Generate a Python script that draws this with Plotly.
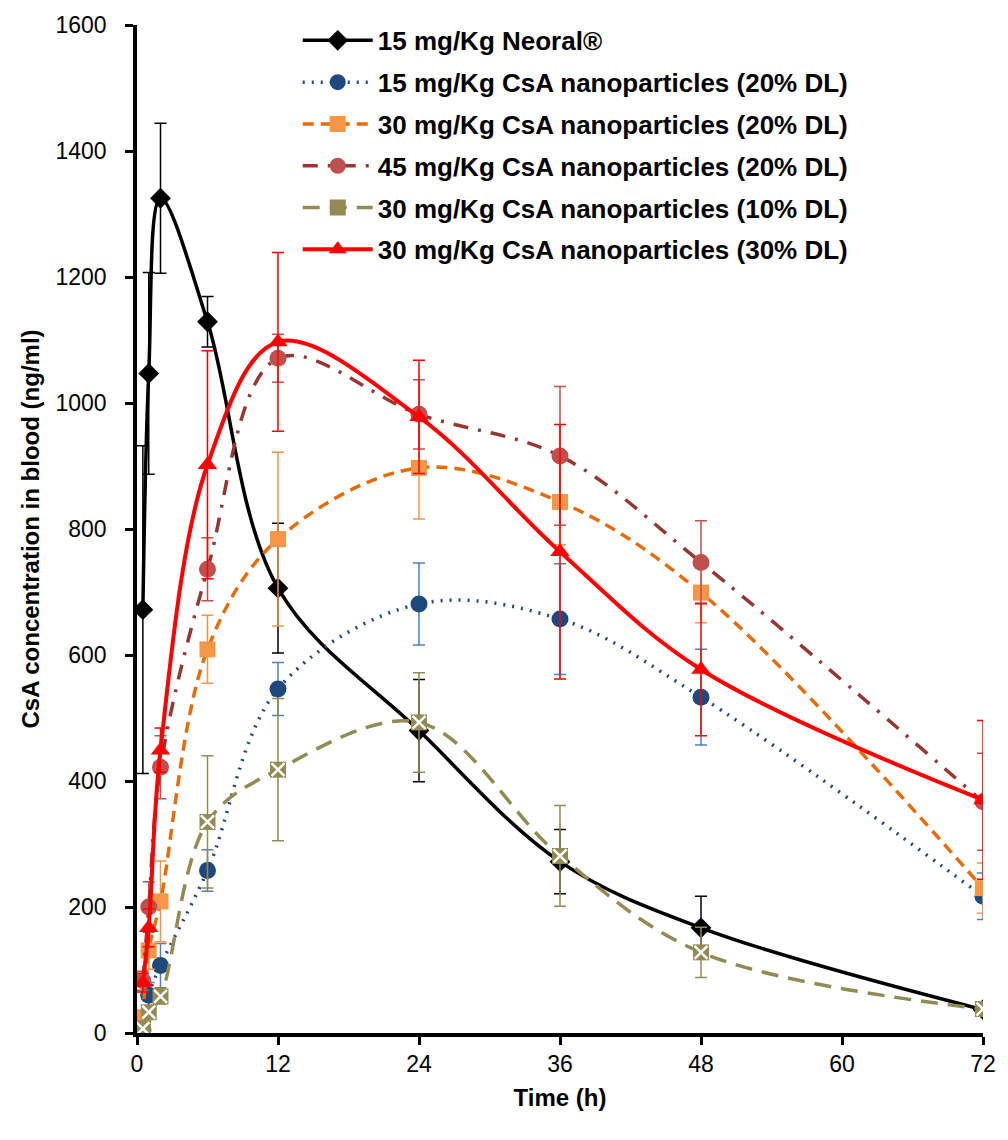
import plotly.graph_objects as go

# Sampling times (h)
time_h = [0.5, 1, 2, 6, 12, 24, 36, 48, 72]

# Mean blood concentrations (ng/ml) and standard deviations
neoral_15 = [672, 1047, 1325, 1129, 706, 480, 272, 167, 37]
neoral_15_sd = [260, 160, 119, 40, 103, 81, 51, 50, 8]

np15_dl20 = [5, 60, 107, 258, 546, 681, 657, 533, 217]
np15_dl20_sd = [5, 20, 35, 33, 42, 65, 88, 76, 37]

np30_dl20 = [25, 131, 209, 609, 784, 897, 843, 699, 230]
np30_dl20_sd = [10, 30, 64, 54, 138, 81, 68, 48, 40]

np45_dl20 = [83, 200, 422, 736, 1071, 982, 916, 747, 367]
np45_dl20_sd = [15, 40, 50, 50, 38, 55, 110, 66, 77]

np30_dl10 = [7, 33, 58, 335, 418, 493, 281, 128, 38]
np30_dl10_sd = [3, 10, 12, 105, 113, 79, 80, 40, 5]

np30_dl30 = [80, 167, 449, 902, 1097, 978, 764, 577, 370]
np30_dl30_sd = [15, 30, 35, 181, 142, 90, 202, 105, 126]

x_ticks = [0, 12, 24, 36, 48, 60, 72]
y_ticks = [0, 200, 400, 600, 800, 1000, 1200, 1400, 1600]

FONT = "Liberation Sans, Arial, sans-serif"

series = [
    dict(name="15 mg/Kg Neoral®", y=neoral_15, sd=neoral_15_sd,
         line=dict(color="#000000", width=3.5, dash="solid"),
         marker=dict(symbol="diamond", size=16, color="#000000"),
         err_color="#000000"),
    dict(name="15 mg/Kg CsA nanoparticles (20% DL)", y=np15_dl20, sd=np15_dl20_sd,
         line=dict(color="#1F497D", width=3.5, dash="2px,7px"),
         marker=dict(symbol="circle", size=17, color="#1F497D"),
         err_color="#4F81BD"),
    dict(name="30 mg/Kg CsA nanoparticles (20% DL)", y=np30_dl20, sd=np30_dl20_sd,
         line=dict(color="#E46C0A", width=3.5, dash="11px,7px"),
         marker=dict(symbol="square", size=16, color="#F79646"),
         err_color="#F79646"),
    dict(name="45 mg/Kg CsA nanoparticles (20% DL)", y=np45_dl20, sd=np45_dl20_sd,
         line=dict(color="#953735", width=3.5, dash="15px,10px,3px,10px"),
         marker=dict(symbol="circle", size=17, color="#C0504D"),
         err_color="#C0504D"),
    dict(name="30 mg/Kg CsA nanoparticles (10% DL)", y=np30_dl10, sd=np30_dl10_sd,
         line=dict(color="#948A54", width=3.5, dash="17px,10px"),
         marker=dict(symbol="square", size=16, color="#948A54"),
         err_color="#948A54"),
    dict(name="30 mg/Kg CsA nanoparticles (30% DL)", y=np30_dl30, sd=np30_dl30_sd,
         line=dict(color="#FF0000", width=4, dash="solid"),
         marker=dict(symbol="triangle-up", size=17, color="#FF0000"),
         err_color="#FF0000"),
]

fig = go.Figure()

for i, s in enumerate(series):
    fig.add_trace(go.Scatter(
        x=time_h, y=s["y"], name=s["name"], mode="lines+markers",
        line=dict(shape="spline", smoothing=1.0, **s["line"]),
        marker=s["marker"],
        error_y=dict(type="data", array=s["sd"], visible=True,
                     color=s["err_color"], thickness=1.5, width=6),
        legendgroup=f"g{i}",
    ))
    if s["name"].endswith("(10% DL)"):
        # white cross drawn over the square markers
        fig.add_trace(go.Scatter(
            x=time_h, y=s["y"], mode="markers", showlegend=False,
            legendgroup=f"g{i}", hoverinfo="skip",
            marker=dict(symbol="x-thin", size=13,
                        line=dict(color="#FFFFFF", width=2.5)),
        ))

fig.update_layout(
    width=1008, height=1140,
    margin=dict(l=137, r=21, t=22, b=107),
    paper_bgcolor="#FFFFFF", plot_bgcolor="#FFFFFF",
    font=dict(family=FONT, color="#000000", size=23),
    showlegend=True,
    legend=dict(
        x=0.19, y=1.008, xanchor="left", yanchor="top",
        bgcolor="rgba(0,0,0,0)",
        font=dict(family=FONT, size=26, color="#000000", weight="bold"),
        traceorder="grouped", tracegroupgap=5, itemwidth=70,
    ),
)

fig.update_xaxes(
    range=[0, 72], tickmode="array", tickvals=x_ticks,
    ticks="outside", ticklen=8, tickwidth=2.5, tickcolor="#000000",
    showline=True, linecolor="#000000", linewidth=3.5,
    showgrid=False, zeroline=False,
    tickfont=dict(family=FONT, size=23),
    title=dict(text="<b>Time (h)</b>", font=dict(family=FONT, size=24), standoff=14),
)
fig.update_yaxes(
    range=[0, 1600], tickmode="array", tickvals=y_ticks,
    ticks="outside", ticklen=8, tickwidth=2.5, tickcolor="#000000",
    showline=True, linecolor="#000000", linewidth=3.5,
    showgrid=False, zeroline=False, ticklabelstandoff=14,
    tickfont=dict(family=FONT, size=23),
    title=dict(text="<b>CsA concentration in blood (ng/ml)</b>",
               font=dict(family=FONT, size=24), standoff=10),
)

fig.write_html("out.html")
